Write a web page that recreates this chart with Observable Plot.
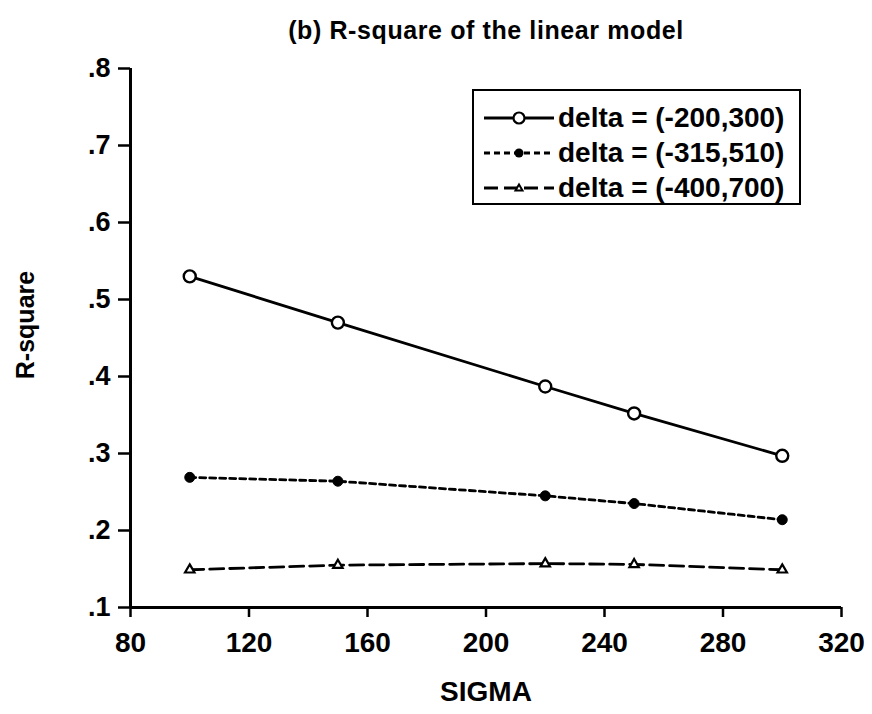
<!DOCTYPE html>
<html><head><meta charset="utf-8">
<script src="https://cdn.jsdelivr.net/npm/d3@7"></script>
<script src="https://cdn.jsdelivr.net/npm/@observablehq/plot@0.6"></script>
<style>
body{margin:0;background:#fff;font-family:"Liberation Sans",Arial,Helvetica,sans-serif;color:#000;}
#wrap{position:relative;width:872px;height:714px;overflow:hidden;background:#fff;}
#chart{position:absolute;left:0;top:0;}
#title{position:absolute;left:486px;top:16px;line-height:29px;transform:translateX(-50%);white-space:nowrap;font-size:25px;font-weight:bold;letter-spacing:0.6px;}
#xlab{position:absolute;left:486px;top:677px;transform:translateX(-50%);font-size:28px;font-weight:bold;line-height:30px;}
#ylab{position:absolute;left:25px;top:325px;transform:translate(-50%,-50%) rotate(-90deg);font-size:25px;font-weight:bold;white-space:nowrap;}
#legend{position:absolute;left:472px;top:89px;width:325px;height:112px;border:2.5px solid #000;box-sizing:content-box;}
.row{position:absolute;left:10px;height:34px;display:flex;align-items:center;}
.row span{font-size:28px;font-weight:bold;margin-left:4px;white-space:nowrap;}
</style></head>
<body>
<div id="wrap">
  <div id="chart"></div>
  <div id="title">(b) R-square of the linear model</div>
  <div id="xlab">SIGMA</div>
  <div id="ylab">R-square</div>
  <div id="legend"></div>
</div>
<script>
const sigma = [100, 150, 220, 250, 300];
const seriesNames = ["delta = (-200,300)", "delta = (-315,510)", "delta = (-400,700)"];
const rsq1 = [0.530, 0.470, 0.387, 0.352, 0.297];
const rsq2 = [0.269, 0.264, 0.245, 0.235, 0.214];
const rsq3 = [0.149, 0.155, 0.157, 0.156, 0.149];
const xTicks = [80, 120, 160, 200, 240, 280, 320];
const yTicks = [0.1, 0.2, 0.3, 0.4, 0.5, 0.6, 0.7, 0.8];

const allSeries = [rsq1, rsq2, rsq3];
const data = allSeries.flatMap((vals, k) => sigma.map((s, i) => ({sigma: s, r: vals[i], series: seriesNames[k]})));
const dash = [null, "6,4", "14,6"];
const lineW = 2.8;

const marks = [
  Plot.ruleX([80], {y1: 0.1, y2: 0.8, strokeWidth: 3}),
  Plot.ruleY([0.1], {x1: 80, x2: 320, strokeWidth: 3}),
  Plot.axisX(xTicks, {tickSize: 10, tickPadding: 15, fontSize: 28, fontWeight: "bold", strokeWidth: 2.5, label: null}),
  Plot.axisY(yTicks, {tickSize: 12, tickPadding: 8, fontSize: 27, fontWeight: "bold", strokeWidth: 2.5, label: null,
    tickFormat: d => d.toFixed(1).replace(/^0/, "")})
];
seriesNames.forEach((name, k) => {
  const rows = data.filter(d => d.series === name);
  marks.push(Plot.line(rows, {x: "sigma", y: "r", stroke: "black", strokeWidth: lineW, strokeDasharray: dash[k]}));
});
marks.push(Plot.dot(data.filter(d => d.series === seriesNames[0]), {x: "sigma", y: "r", r: 6, fill: "white", stroke: "black", strokeWidth: 2.4}));
marks.push(Plot.dot(data.filter(d => d.series === seriesNames[1]), {x: "sigma", y: "r", r: 5, fill: "black", stroke: "black", strokeWidth: 1}));
marks.push(Plot.dot(data.filter(d => d.series === seriesNames[2]), {x: "sigma", y: "r", r: 3.5, symbol: "triangle", fill: "white", stroke: "black", strokeWidth: 2.2}));

const chart = Plot.plot({
  width: 872,
  height: 714,
  marginLeft: 130,
  marginRight: 31,
  marginTop: 68,
  marginBottom: 107,
  style: {fontFamily: '"Liberation Sans", Arial, Helvetica, sans-serif', color: "black", background: "white"},
  x: {domain: [80, 320]},
  y: {domain: [0.1, 0.8]},
  marks
});
document.getElementById("chart").appendChild(chart);

// legend
const legend = document.getElementById("legend");
const symbols = [
  '<circle cx="35" cy="12" r="5.5" fill="white" stroke="black" stroke-width="2.2"/>',
  '<circle cx="35" cy="12" r="4.5" fill="black"/>',
  '<path d="M35,8.5 L38.5,14.5 L31.5,14.5 Z" fill="white" stroke="black" stroke-width="2"/>'
];
seriesNames.forEach((name, k) => {
  const row = document.createElement("div");
  row.className = "row";
  row.style.top = (10 + k * 35) + "px";
  const da = dash[k] ? `stroke-dasharray="${dash[k]}"` : "";
  row.innerHTML = `<svg width="70" height="24"><line x1="0" x2="70" y1="12" y2="12" stroke="black" stroke-width="${lineW}" ${da}/>${symbols[k]}</svg><span>${name}</span>`;
  legend.appendChild(row);
});
</script>
</body></html>
